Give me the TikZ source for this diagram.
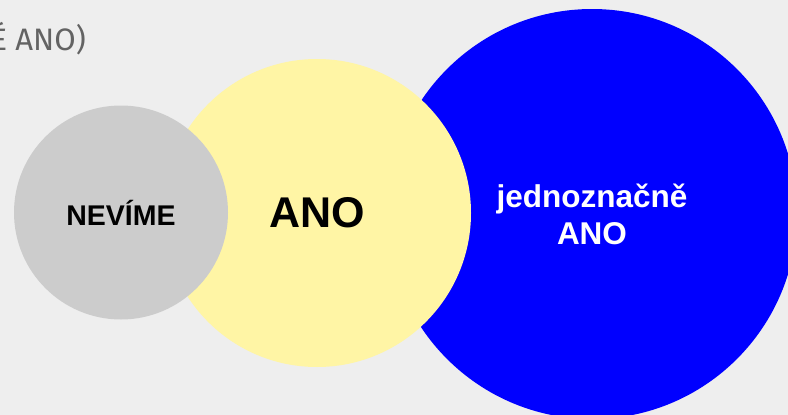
\documentclass[tikz,border=0pt]{standalone}
\usepackage{fontspec}
\setmainfont{Liberation Sans}
\newfontfamily\headfont{Fira Sans}
\definecolor{pagebg}{RGB}{238,238,238}
\definecolor{greyset}{RGB}{204,204,204}
\definecolor{yellowset}{RGB}{255,245,165}
\definecolor{blueset}{RGB}{0,0,255}
\definecolor{headgrey}{RGB}{99,99,99}
\tikzset{
  set/.style={circle, inner sep=0pt, align=center, font=\bfseries},
}
\begin{document}
\begin{tikzpicture}[x=1pt, y=-1pt]
      \fill[pagebg] (0,0) rectangle (788,415);
      \useasboundingbox (0,0) rectangle (788,415);
      \begin{scope}
        \clip (0,0) rectangle (788,415);
        \node[set, fill=blueset, text=white, minimum size=410pt,
          font=\bfseries\fontsize{31.5}{37}\selectfont] (sure) at (592,214)
          {jednoznačně\\ANO};
        \node[set, fill=yellowset, minimum size=308pt,
          font=\bfseries\fontsize{43}{50}\selectfont] (yes) at (317,213) {ANO};
        \node[set, fill=greyset, minimum size=214pt,
          font=\bfseries\fontsize{28.5}{32}\selectfont] (unknown) at (121,212.5) {NEVÍME};
        \node[anchor=base east, inner sep=0pt, text=headgrey,
          font=\headfont\fontsize{31}{36}\selectfont] (head) at (86,50) {É ANO)};
      \end{scope}
    \end{tikzpicture}
\end{document}
